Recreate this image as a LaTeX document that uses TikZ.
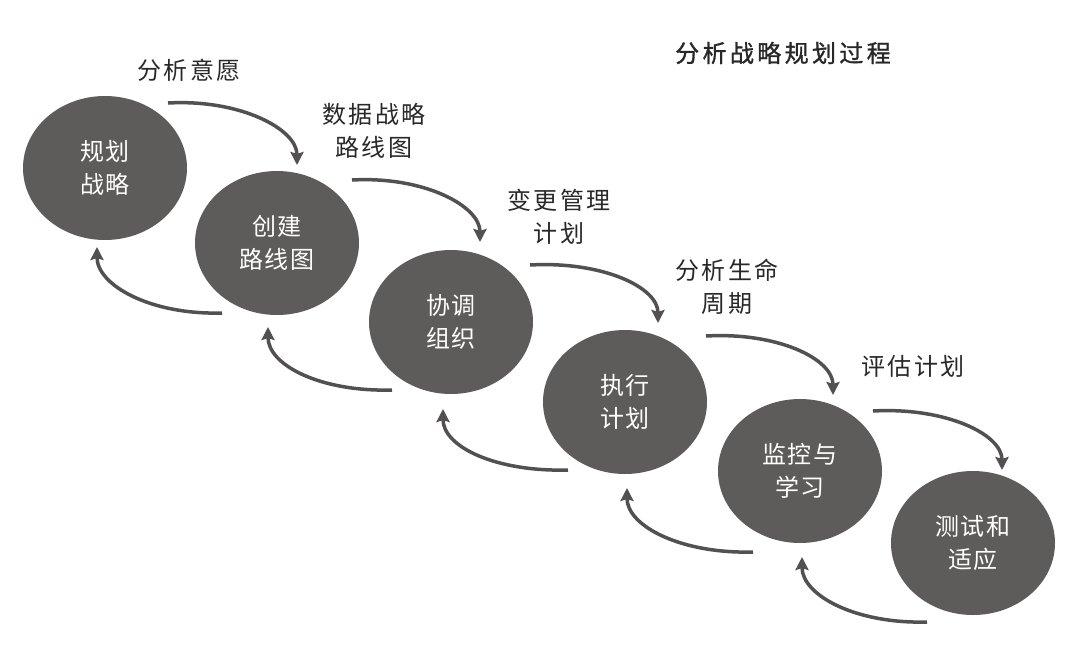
\documentclass[tikz,border=0pt]{standalone}
\usepackage{fontspec}
\newfontfamily\cjk[LetterSpace=8]{Noto Sans CJK SC}
\newfontfamily\cjkl[LetterSpace=10]{Noto Sans CJK SC}
\newfontfamily\cjkt[LetterSpace=14,FakeBold=1.2]{Noto Sans CJK SC}
\usetikzlibrary{shapes.geometric,arrows.meta,calc}
\definecolor{ellfill}{RGB}{94,91,91}
\definecolor{arrcol}{RGB}{82,80,80}
\definecolor{labcol}{RGB}{40,40,40}
\begin{document}
\begin{tikzpicture}[x=1pt,y=-1pt,
  stage/.style={ellipse, fill=ellfill, minimum width=164pt, minimum height=144pt, inner sep=0pt, text=white, font=\cjk\fontsize{24}{33}\selectfont, align=center},
  lab/.style={font=\cjkl\fontsize{24}{33}\selectfont, text=labcol, align=center},
  flow/.style={draw=arrcol, line width=3.5pt, -{Stealth[length=13pt,width=13pt,inset=2pt]}}]
\useasboundingbox (0,0) rectangle (1080,646);
\fill[white] (0,0) rectangle (1080,646);

\node[stage] (e1) at (105,168) {规划\\战略};
\node[stage] (e2) at (277,243) {创建\\路线图};
\node[stage] (e3) at (451,322) {协调\\组织};
\node[stage] (e4) at (625,402) {执行\\计划};
\node[stage] (e5) at (800,471) {监控与\\学习};
\node[stage] (e6) at (973,543) {测试和\\适应};

\node[lab] (l1) at (189,70) {分析意愿};
\node[lab] (l2) at (374,131) {数据战略\\路线图};
\node[lab] (l3) at (559,217) {变更管理\\计划};
\node[lab] (l4) at (727,287) {分析生命\\周期};
\node[lab] (l5) at (913,366) {评估计划};
\node[font=\cjkt\fontsize{24}{28}\selectfont, text=labcol] (title) at (783,53) {分析战略规划过程};

% forward arrows
\draw[flow] ($(e1.center)+(63,-65)$) .. controls +(72,-4) and +(0,-36) .. ($(e2.center)+(20,-78)$);
\draw[flow] ($(e2.center)+(75,-63)$) .. controls +(72,-4) and +(0,-36) .. ($(e3.center)+(29,-80)$);
\draw[flow] ($(e3.center)+(79,-57)$) .. controls +(72,-4) and +(0,-36) .. ($(e4.center)+(33,-79)$);
\draw[flow] ($(e4.center)+(81,-66)$) .. controls +(72,-4) and +(0,-36) .. ($(e5.center)+(33,-76)$);
\draw[flow] ($(e5.center)+(73,-60)$) .. controls +(72,-4) and +(0,-36) .. ($(e6.center)+(29,-73)$);

% backward arrows
\draw[flow] ($(e2.center)+(-55,70)$) .. controls +(-72,2) and +(0,38) .. ($(e1.center)+(-8,79)$);
\draw[flow] ($(e3.center)+(-59,68)$) .. controls +(-72,2) and +(0,38) .. ($(e2.center)+(-9,84)$);
\draw[flow] ($(e4.center)+(-57,68)$) .. controls +(-72,2) and +(0,38) .. ($(e3.center)+(-8,87)$);
\draw[flow] ($(e5.center)+(-47,81)$) .. controls +(-72,2) and +(0,38) .. ($(e4.center)+(2,86)$);
\draw[flow] ($(e6.center)+(-46,79)$) .. controls +(-72,2) and +(0,38) .. ($(e5.center)+(2,86)$);
\end{tikzpicture}
\end{document}
